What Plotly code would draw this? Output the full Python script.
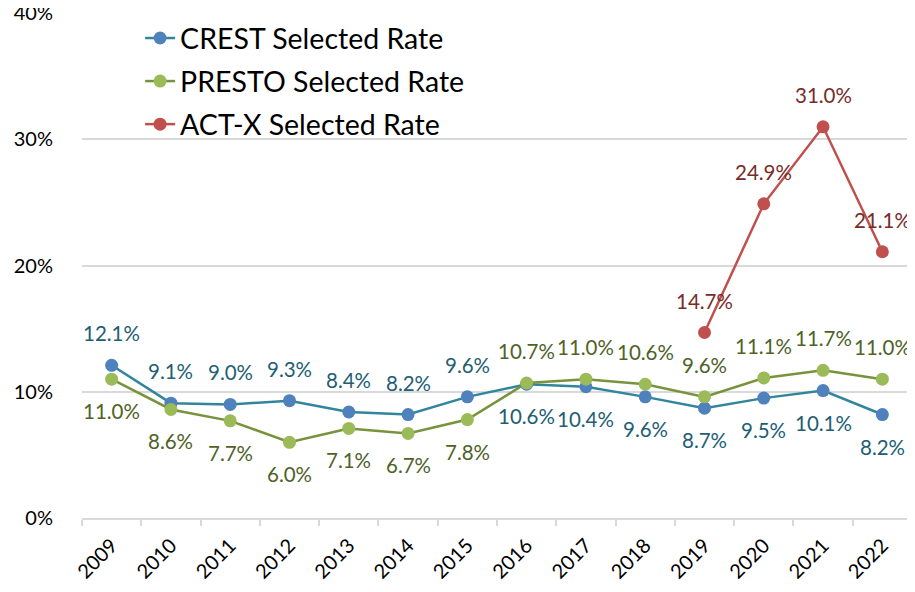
import plotly.graph_objects as go

years = [str(y) for y in range(2009, 2023)]
crest = [12.1, 9.1, 9.0, 9.3, 8.4, 8.2, 9.6, 10.6, 10.4, 9.6, 8.7, 9.5, 10.1, 8.2]
presto = [11.0, 8.6, 7.7, 6.0, 7.1, 6.7, 7.8, 10.7, 11.0, 10.6, 9.6, 11.1, 11.7, 11.0]
actx = [None] * 10 + [14.7, 24.9, 31.0, 21.1]
y_ticks = [0, 10, 20, 30, 40]

# label side: +1 above, -1 below
crest_side = [1] * 7 + [-1] * 7
presto_side = [-1] * 7 + [1] * 7
actx_side = [1] * 14

FONT = "Lato"
LABEL_SIZE = 20.5
OFFSET = 32

series = [
    ("CREST Selected Rate", crest, crest_side, "#31859C", "#4F81BD", "#215E74"),
    ("PRESTO Selected Rate", presto, presto_side, "#77933C", "#9BBB59", "#4F6228"),
    ("ACT-X Selected Rate", actx, actx_side, "#C0504D", "#C0504D", "#772C2A"),
]

fig = go.Figure()
annotations = []
for i, (name, vals, side, lc, mc, tc) in enumerate(series):
    fig.add_trace(go.Scatter(
        x=years, y=vals, name=name, mode="lines+markers",
        line=dict(color=lc, width=2.5),
        marker=dict(color=mc, size=13),
        legendgroup=f"g{i}", cliponaxis=False,
    ))
    for idx, (v, s) in enumerate(zip(vals, side)):
        if v is None:
            continue
        annotations.append(dict(
            x=idx, y=v, xref="x", yref="y", text=f"{v:.1f}%", showarrow=False,
            yshift=OFFSET * s, font=dict(color=tc, size=LABEL_SIZE, family=FONT),
        ))

# page body has an 8px margin: compensate so the plot area lands where the reference has it
fig.update_layout(
    width=907, height=584,
    margin=dict(l=74, r=3, t=5, b=74),
    paper_bgcolor="white", plot_bgcolor="white",
    font=dict(family=FONT, color="#000000", size=20),
    annotations=annotations,
    legend=dict(x=0.070, y=1.0, xanchor="left", yanchor="top",
                font=dict(size=28.5, family=FONT, color="#000000"),
                bgcolor="rgba(0,0,0,0)", tracegroupgap=3),
    xaxis=dict(type="category", range=[-0.5, len(years) - 0.5],
               tickangle=-45, ticks="outside", tickson="boundaries",
               ticklen=6, tickcolor="#D9D9D9", tickwidth=2, automargin=False,
               ticklabelstandoff=6, ticklabeloverflow="allow",
               showline=True, linecolor="#D9D9D9", linewidth=2, showgrid=False,
               tickfont=dict(size=20, family=FONT)),
    yaxis=dict(range=[0, 40.02], tickmode="array", tickvals=y_ticks,
               ticktext=[f"{t}%" for t in y_ticks], showgrid=True, automargin=False,
               ticklabeloverflow="allow",
               gridcolor="#D9D9D9", gridwidth=2, zeroline=False, showline=False,
               tickfont=dict(size=20, family=FONT), ticklen=24, ticks="outside",
               tickcolor="rgba(0,0,0,0)"),
)

fig.write_html("out.html")
